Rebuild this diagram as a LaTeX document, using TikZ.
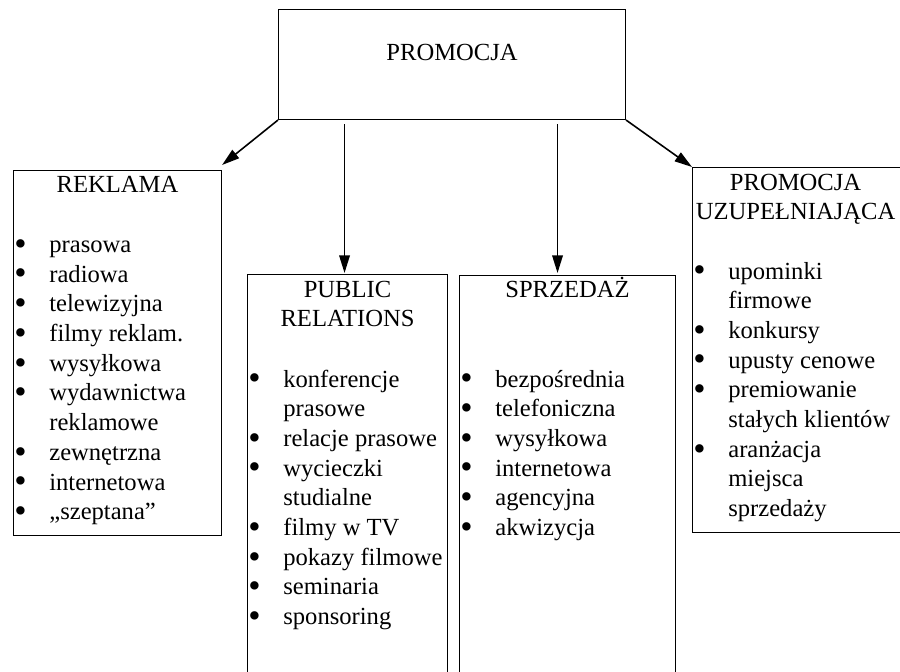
\documentclass[tikz,border=0pt]{standalone}
\usepackage{fontspec}
\setmainfont{Liberation Serif}
\usetikzlibrary{positioning, arrows.meta, calc}
\newcommand{\pxu}{0.02cm}
\newlength{\bw}\setlength{\bw}{0.70cm}
\newcommand{\blt}{\raisebox{-1.6pt}[0pt][0pt]{\fontsize{20pt}{0pt}\selectfont •}}
\newcommand{\itm}[1]{\makebox[\bw][l]{\blt}#1}
\newcommand{\cnt}[1]{\hspace*{\bw}#1}

\begin{document}
\begin{tikzpicture}[x=\pxu, y=-\pxu,
    font=\fontsize{14pt}{16.9pt}\selectfont,
    box/.style={draw, line width=0.6pt, inner sep=0pt, anchor=north west},
    head/.style={align=center, anchor=base, inner sep=0pt},
    list/.style={align=left, anchor=base west, inner sep=0pt},
    arr/.style={-{Triangle[length=10pt, width=6pt]}, line width=0.9pt}]
            \useasboundingbox (0,0) rectangle (900,672);
            \clip (0,0) rectangle (900,672);

            % boxes
            \node [box, minimum width=347*\pxu, minimum height=110*\pxu] (top) at (278,9) {};
            \node [head] (toptxt) at ([yshift=-52*\pxu]top.north) {PROMOCJA};

            \node [box, minimum width=208*\pxu, minimum height=365*\pxu] (rek) at (13,170) {};
            \node [box, minimum width=200*\pxu, minimum height=450*\pxu] (pr) at (247,274) {};
            \node [box, minimum width=216*\pxu, minimum height=450*\pxu] (spr) at (459,275) {};
            \node [box, minimum width=230*\pxu, minimum height=365*\pxu] (upz) at (692,167) {};

            % titles (base = last line)
            \node [head] (rektit) at ([yshift=-23*\pxu]rek.north) {REKLAMA};
            \node [head] (prtit) at ([yshift=-52.7*\pxu]pr.north) {PUBLIC\\RELATIONS};
            \node [head] (sprtit) at ([yshift=-23*\pxu]spr.north) {SPRZEDAŻ};
            \node [head] (upztit) at ([xshift=-12*\pxu, yshift=-52.7*\pxu]upz.north) {PROMOCJA\\UZUPEŁNIAJĄCA};

            % lists (base = last line)
            \node [list] (reklst) at ([xshift=1*\pxu, yshift=-(82.4+9*29.7)*\pxu]rek.north west)
                {\itm{prasowa}\\ \itm{radiowa}\\ \itm{telewizyjna}\\ \itm{filmy reklam.}\\
                 \itm{wysyłkowa}\\ \itm{wydawnictwa}\\ \cnt{reklamowe}\\ \itm{zewnętrzna}\\
                 \itm{internetowa}\\ \itm{„szeptana”}};
            \node [list] (prlst) at ([xshift=1*\pxu, yshift=-(113+8*29.7)*\pxu]pr.north west)
                {\itm{konferencje}\\ \cnt{prasowe}\\ \itm{relacje prasowe}\\ \itm{wycieczki}\\
                 \cnt{studialne}\\ \itm{filmy w TV}\\ \itm{pokazy filmowe}\\ \itm{seminaria}\\
                 \itm{sponsoring}};
            \node [list] (sprlst) at ([xshift=1*\pxu, yshift=-(112+5*29.7)*\pxu]spr.north west)
                {\itm{bezpośrednia}\\ \itm{telefoniczna}\\ \itm{wysyłkowa}\\ \itm{internetowa}\\
                 \itm{agencyjna}\\ \itm{akwizycja}};
            \node [list] (upzlst) at ([xshift=1*\pxu, yshift=-(112+8*29.7)*\pxu]upz.north west)
                {\itm{upominki}\\ \cnt{firmowe}\\ \itm{konkursy}\\ \itm{upusty cenowe}\\
                 \itm{premiowanie}\\ \cnt{stałych klientów}\\ \itm{aranżacja}\\ \cnt{miejsca}\\
                 \cnt{sprzedaży}};

            % arrows
            \draw [arr] (top.south west) -- ([yshift=5*\pxu]rek.north east);
            \draw [arr] ($(top.south -| pr.north)+(-3,4)$) -- ($(pr.north)+(-3,-1)$);
            \draw [arr] ($(top.south -| spr.north)+(-10,4)$) -- ($(spr.north)+(-10,-2)$);
            \draw [arr] (top.south east) -- (upz.north west);
        \end{tikzpicture}
\end{document}
